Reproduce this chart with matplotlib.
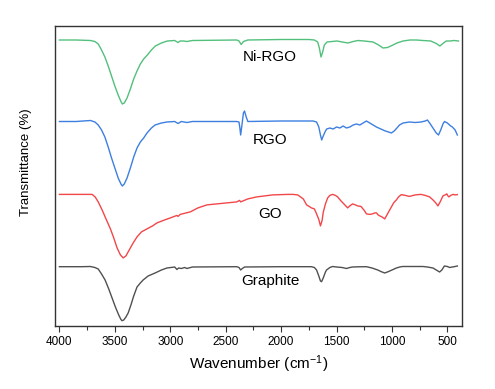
import matplotlib
matplotlib.use("Agg")
import matplotlib.pyplot as plt
from matplotlib.ticker import MultipleLocator, NullLocator
import numpy as np

plt.rcParams['font.family'] = ['Liberation Sans', 'DejaVu Sans']
plt.rcParams['mathtext.fontset'] = 'custom'
plt.rcParams['mathtext.rm'] = 'Liberation Sans'
plt.rcParams['mathtext.it'] = 'Liberation Sans:italic'

# ---- data (relative transmittance, baseline = 0) ----
niRGO_wn = [4000, 3850, 3720, 3680, 3650, 3620, 3590, 3560, 3530, 3500, 3470, 3445, 3432, 3415, 3390,
            3360, 3330, 3300, 3270, 3240, 3207, 3170, 3135, 3080, 3027, 2960, 2930, 2910, 2880, 2850,
            2800, 2400, 2380, 2360, 2340, 2300, 2000, 1750, 1700, 1670, 1655, 1640, 1625, 1610, 1586,
            1540, 1495, 1450, 1396, 1350, 1306, 1250, 1171, 1120, 1081, 1040, 1000, 955, 900, 838,
            780, 721, 650, 600, 568, 540, 510, 477, 440, 400]
niRGO_T = [0, 0, -0.5, -1.5, -4, -10, -17, -26, -36, -46, -55, -61.5, -64, -63, -58,
           -49, -39, -31, -24, -19, -15, -10, -6, -3, -1, -0.5, -2.5, -1, -1, -1.5,
           -0.5, 0, -1, -4.5, -1.5, 0, 0.5, 0.5, 0, -2, -8, -17, -12, -5, -2,
           -1.5, -1, -2, -3, -1.5, -0.5, -1, -2, -5, -8, -7.5, -5.5, -3, -1, 0,
           0, -0.5, -1, -3.5, -6, -3.5, -1, -1, -0.5, -1]

rgo_wn = [4000, 3850, 3720, 3680, 3650, 3620, 3590, 3560, 3530, 3500, 3470, 3445, 3432, 3415, 3390,
          3360, 3330, 3300, 3270, 3240, 3210, 3170, 3137, 3080, 3030, 2960, 2930, 2900, 2850, 2800,
          2400, 2380, 2372, 2365, 2350, 2340, 2330, 2315, 2300, 2000, 1712, 1680, 1660, 1645, 1634,
          1620, 1600, 1588, 1560, 1530, 1500, 1470, 1440, 1410, 1380, 1350, 1320, 1290, 1260, 1230,
          1200, 1170, 1140, 1100, 1060, 1030, 1005, 980, 955, 932, 900, 842, 790, 737, 700,
          680, 660, 630, 600, 580, 560, 540, 526, 500, 470, 455, 430, 410]
rgo_T = [0, 0, 1, -0.5, -3.5, -8.5, -15.5, -25.5, -36.5, -46.5, -56.5, -62.5, -64.5, -62.5, -56.5,
         -46.5, -35.5, -26.5, -20.5, -16.5, -11.5, -6.5, -3.5, -1.5, -0.5, 0, -2, 0, -1, 0,
         0, -0.5, -6.5, -13.5, -0.5, 8.5, 10.5, 4.5, 0, 0.5, 0.5, -0.5, -5.5, -13.5, -18.5,
         -14.5, -9.5, -7.5, -6.5, -7.5, -5.5, -6.5, -4.5, -6.5, -5.5, -3.5, -2.5, -3.5, -1.5, 0.5,
         -1.5, -3.5, -5.5, -7.5, -9.5, -10.5, -11.5, -9.5, -6.5, -3.5, -1.5, -0.5, -1, -0.5, 0.5,
         1.5, -1.5, -6.5, -11.5, -13.5, -8.5, -2.5, 0, -1.5, -4.5, -5.5, -8.5, -13.5]

go_wn = [4000, 3800, 3705, 3678, 3650, 3615, 3580, 3540, 3510, 3480, 3450, 3425, 3400, 3380, 3340,
         3300, 3260, 3210, 3160, 3120, 3050, 2975, 2940, 2930, 2910, 2820, 2750, 2670, 2580, 2490,
         2400, 2375, 2365, 2300, 2220, 2075, 1940, 1895, 1850, 1800, 1770, 1740, 1727, 1700, 1680,
         1660, 1645, 1630, 1620, 1600, 1580, 1560, 1535, 1510, 1490, 1460, 1425, 1400, 1380, 1355,
         1330, 1310, 1280, 1250, 1230, 1200, 1176, 1155, 1140, 1125, 1110, 1090, 1065, 1040, 1020,
         1005, 985, 960, 940, 915, 880, 842, 790, 737, 700, 660, 630, 605, 585, 565,
         540, 520, 505, 495, 486, 470, 450, 430, 410]
go_T = [0, 0, 0, -2.5, -7.5, -15.5, -24.5, -34.5, -43.5, -53.5, -60.5, -63.5, -61.5, -57.5, -49.5,
        -42.5, -37.5, -34.5, -31.5, -28.5, -25.5, -22.5, -21, -22, -20, -17.5, -13.5, -10.5, -9.5, -8.5,
        -7.5, -6, -7.5, -4.5, -2.5, -0.5, 0, 0, -0.5, -4.5, -10.5, -12.5, -13.5, -14.5, -19.5,
        -25, -31.5, -26, -18, -9.5, -3.5, -1, 0, -1, -2.5, -6.5, -10.5, -13.5, -11.5, -9.5,
        -10.5, -11.5, -12, -16, -19.5, -20, -19.5, -18.5, -18.5, -20.5, -21.5, -22.5, -24.5, -19.5, -15.5,
        -12.5, -8.5, -5.5, -2.5, -0.2, -1, -2, -0.5, 0, -1, -2.5, -5.5, -8.5, -11.5, -7.5,
        -1.5, -0.5, 0.5, -1.5, -2.5, -1, 0, -0.5, -0.2]

gr_wn = [4000, 3800, 3720, 3680, 3650, 3620, 3588, 3555, 3525, 3495, 3465, 3445, 3435, 3420, 3400,
         3380, 3355, 3330, 3300, 3270, 3245, 3200, 3137, 3080, 3030, 2960, 2940, 2925, 2900, 2870,
         2850, 2800, 2400, 2380, 2365, 2350, 2330, 2000, 1727, 1700, 1680, 1660, 1645, 1635, 1620,
         1600, 1590, 1560, 1535, 1500, 1450, 1410, 1380, 1355, 1300, 1230, 1180, 1128, 1100, 1065,
         1030, 1000, 960, 930, 905, 800, 721, 680, 630, 600, 570, 550, 527, 500, 480,
         455, 430, 410]
gr_T = [0, 0, 0.2, -0.8, -2.3, -7.3, -13.3, -22.3, -31.3, -40.3, -48.3, -52.8, -54, -53.3, -50.3,
        -46.3, -38.3, -29.3, -20.3, -16.3, -13.3, -9.3, -6.3, -3.3, -1.3, -0.3, -2.8, -1.3, -1.8, -0.8,
        -1.8, -0.3, 0, -0.8, -3.3, -1.8, -0.3, 0, 0, -0.8, -3.3, -9.3, -14.3, -15, -11.3,
        -5.3, -3.3, -0.8, 0.2, -0.3, -0.8, -1.8, -0.8, -0.3, -0.1, 0, -1.3, -3.3, -4.8, -6.3,
        -4.8, -3.3, -1.3, -0.3, 0.2, 0.2, 0.2, -0.3, -1.3, -3.3, -5.3, -3.3, 0.7, 0.2, -0.8,
        -0.3, 0.2, 0.7]

names = ['Graphite', 'GO', 'RGO', 'Ni-RGO']
xticks = [4000, 3500, 3000, 2500, 2000, 1500, 1000, 500]

series = [(gr_wn, gr_T), (go_wn, go_T), (rgo_wn, rgo_T), (niRGO_wn, niRGO_T)]
for w, t in series:
    assert len(w) == len(t), (len(w), len(t))

# ---- styling / layout ----
offsets = [59.3, 131.6, 204.5, 286]
colors = ['#505050', '#f2474a', '#3d7fe0', '#52c07c']
label_y = [45, 112, 186, 269]

fig = plt.figure(figsize=(4.95, 3.89), dpi=100)
ax = fig.add_axes([55/495, 63/389, 407/495, 300/389])

for (w, t), off, c in zip(series, offsets, colors):
    ax.plot(w, np.asarray(t) + off, color=c, lw=1.0)

for name, ly in zip(names, label_y):
    ax.text(2100, ly, name, ha='center', va='center', fontsize=11, color='black')

ax.set_xlim(4040, 368)
ax.set_ylim(0, 300)
ax.set_xticks(xticks)
ax.xaxis.set_minor_locator(MultipleLocator(250))
ax.yaxis.set_major_locator(NullLocator())
ax.tick_params(axis='x', which='major', direction='out', length=4, width=0.8,
               labelsize=8.5, pad=3, color='#333333')
ax.tick_params(axis='x', which='minor', direction='out', length=3, width=0.8, color='#333333')
for s in ax.spines.values():
    s.set_color('#333333')
    s.set_linewidth(1.0)

ax.set_xlabel('Wavenumber (cm$^{-1}$)', fontsize=11, labelpad=4)
ax.set_ylabel('Transmittance (%)', fontsize=9.5)
ax.yaxis.set_label_coords(-0.0565, 0.545)

fig.savefig('out.png', dpi=100)
